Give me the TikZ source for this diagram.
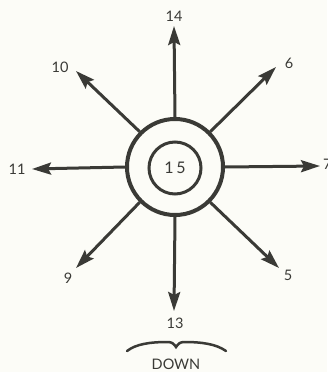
\documentclass[tikz,border=0pt]{standalone}
\usepackage{fontspec}
\setmainfont{Lato}
\usetikzlibrary{arrows.meta}
\definecolor{ink}{HTML}{3A3A36}
\definecolor{paper}{HTML}{FCFCF7}
\begin{document}
\begin{tikzpicture}[x=1pt,y=-1pt,
  arr/.style={draw=ink, line width=3pt, -{Stealth[length=19pt,width=12pt,inset=3pt]}},
  lbl/.style={text=ink, font=\fontsize{14.5}{16}\selectfont, inner sep=0pt},
  ring/.style={circle, draw=ink, inner sep=0pt}]
\fill[paper] (0,0) rectangle (327,372);
\useasboundingbox (0,0) rectangle (327,372);
\node[ring, line width=4pt, minimum size=96pt] (outer) at (175,167) {};
\node[ring, line width=3pt, minimum size=52pt, text=ink, font=\fontsize{16}{18}\selectfont] (inner) at (175,168) {1\,5};
\coordinate (t14) at (174,26);
\coordinate (t13) at (174,311);
\coordinate (t11) at (32,169);
\coordinate (t7) at (320,166);
\coordinate (t6) at (276,67);
\coordinate (t10) at (76,71);
\coordinate (t9) at (76,268);
\coordinate (t5) at (279,268);
\draw[arr] (outer.north) -- (t14);
\draw[arr] (outer.south) -- (t13);
\draw[arr] (outer.west) -- (t11);
\draw[arr] (outer.east) -- (t7);
\draw[arr] (outer.45) -- (t6);
\draw[arr] (outer.135) -- (t10);
\draw[arr] (outer.225) -- (t9);
\draw[arr] (outer.-45) -- (t5);
\node[lbl] (l14) at (174,16) {14};
\node[lbl] (l13) at (175,323) {13};
\node[lbl] (l11) at (17,169) {11};
\node[lbl, anchor=west] (l7) at (323,164) {7};
\node[lbl] (l6) at (289,63) {6};
\node[lbl] (l10) at (60,67) {10};
\node[lbl] (l9) at (68,278) {9};
\node[lbl] (l5) at (288,275) {5};
\coordinate (bl) at (127,351);
\coordinate (bm) at (176,347);
\coordinate (br) at (226,351);
\draw[ink, line width=2.5pt, line cap=round] (bl) .. controls (136,344) and (150,342) .. (168,342) .. controls (172,342) and (174,344) .. (bm) .. controls (178,344) and (180,342) .. (184,342) .. controls (202,342) and (216,344) .. (br);
\node[lbl] (down) at (176,364) {DOWN};
\end{tikzpicture}
\end{document}
